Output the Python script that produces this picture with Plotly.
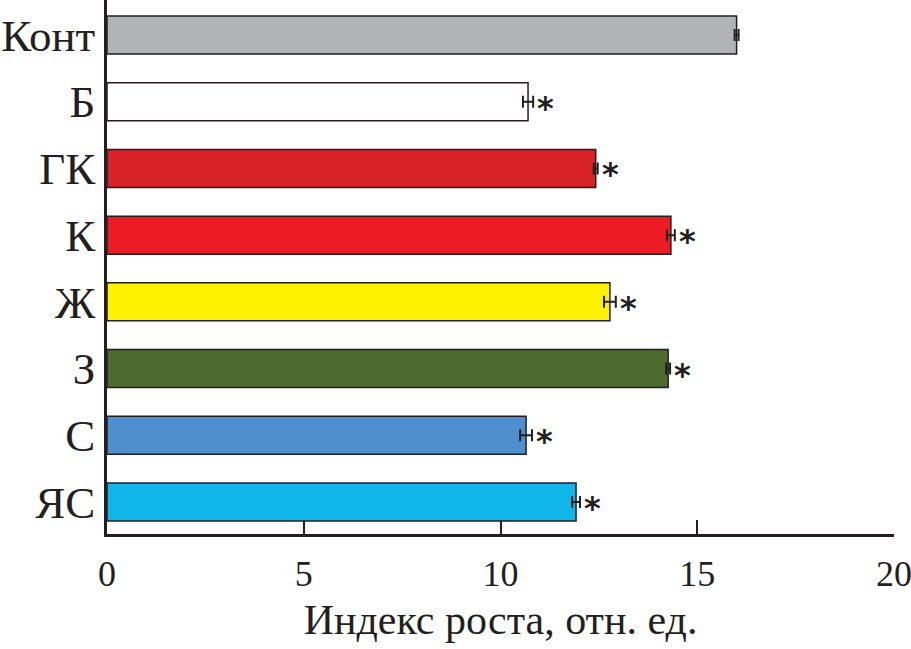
import plotly.graph_objects as go

categories = ["Конт", "Б", "ГК", "К", "Ж", "З", "С", "ЯС"]
values = [16.0, 10.7, 12.42, 14.33, 12.78, 14.26, 10.65, 11.92]
errors = [0.05, 0.13, 0.05, 0.10, 0.15, 0.05, 0.15, 0.10]
significant = [False, True, True, True, True, True, True, True]
colors = ["#B1B3B5", "#FFFFFF", "#D92128", "#ED1C24", "#FFF200", "#4F6A2E", "#4F8FCD", "#10B5EA"]
x_ticks = [0, 5, 10, 15, 20]
x_title = "Индекс роста, отн. ед."

FONT = "Liberation Serif"

fig = go.Figure()
fig.add_trace(go.Bar(
    y=categories,
    x=values,
    orientation="h",
    width=0.57,
    marker=dict(color=colors, line=dict(color="#231F20", width=1.5)),
    error_x=dict(type="data", array=errors, visible=True, color="#231F20", thickness=2, width=6),
    showlegend=False,
))

for cat, v, e, s in zip(categories, values, errors, significant):
    if s:
        fig.add_annotation(
            x=v + e, y=cat, xref="x", yref="y",
            text="<b>*</b>", showarrow=False,
            xanchor="left", yanchor="middle",
            xshift=2, yshift=-6,
            font=dict(family="DejaVu Sans", size=32, color="#231F20"),
        )

fig.update_layout(
    width=911, height=649,
    margin=dict(l=107, r=17, t=0, b=115),
    paper_bgcolor="white", plot_bgcolor="white",
    font=dict(family=FONT, size=40, color="#231F20"),
)
fig.update_xaxes(
    range=[0, 20], tickvals=x_ticks, ticktext=[str(t) for t in x_ticks],
    showline=True, linecolor="#231F20", linewidth=2.5,
    ticks="inside", ticklen=14, tickwidth=2, tickcolor="#231F20",
    showgrid=False, zeroline=False,
    tickfont=dict(family=FONT, size=36),
    ticklabelstandoff=6,
    ticklabeloverflow="allow",
    title=dict(text=x_title, font=dict(family=FONT, size=42), standoff=12),
    automargin=False,
)
fig.update_yaxes(
    range=[7.48, -0.525], categoryorder="array", categoryarray=categories,
    showline=True, linecolor="#231F20", linewidth=2.5,
    ticks="", showgrid=False, zeroline=False,
    tickfont=dict(family=FONT, size=45),
    ticklabelstandoff=0,
    ticklabeloverflow="allow",
    automargin=False,
)

fig.write_html("out.html", config={"displayModeBar": False},
               post_script="document.body.style.margin='0';")
